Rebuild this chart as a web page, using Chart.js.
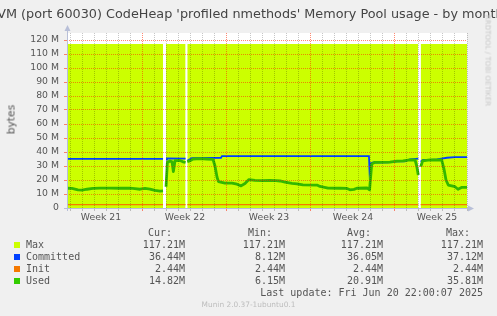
<!DOCTYPE html>
<html><head><meta charset="utf-8">
<script src="https://cdn.jsdelivr.net/npm/chart.js@4"></script>
<style>
html,body{margin:0;padding:0;background:#f0f0f0;}
#wrap{position:relative;width:497px;height:316px;overflow:hidden;background:#f0f0f0;}
#c{position:absolute;left:0;top:0;}
.t{position:absolute;white-space:pre;}
.mono{font-family:"DejaVu Sans Mono",monospace;font-size:10px;color:#555;line-height:12px;}
</style></head><body>
<div id="wrap">
<canvas id="c" width="497" height="316"></canvas>
<div class="t" id="title" style="left:-100px;width:697px;top:6px;text-align:center;font-family:'DejaVu Sans';font-size:12.8px;line-height:15px;color:#444;">JVM (port 60030) CodeHeap 'profiled nmethods' Memory Pool usage - by month</div>
<div class="t" style="left:-39px;top:113px;width:100px;text-align:center;transform:rotate(-90deg);font-family:'DejaVu Sans';font-size:10.7px;line-height:13px;color:#555;">bytes</div>
<div class="t" style="left:438px;top:56px;width:100px;text-align:center;transform:rotate(90deg);font-family:'DejaVu Sans';font-size:7.1px;line-height:9px;color:#c8c8c8;">RRDTOOL / TOBI OETIKER</div>
<div class="t" style="left:0;width:497px;top:300px;text-align:center;font-family:'DejaVu Sans';font-size:7.4px;line-height:9px;color:#bdbdbd;">Munin 2.0.37-1ubuntu0.1</div>
</div>
<script>
// ---- data (x in days from Monday of week 21, y in M) ----
const weekLabels = ['Week 21','Week 22','Week 23','Week 24','Week 25'];

const maxDays   = [0.667, 8.67, 8.8, 8.92, 10.55, 10.62, 10.69, 29.94, 30.04, 30.14, 34.0];
const maxValues = [117.21, 117.21, null, 117.21, 117.21, null, 117.21, 117.21, null, 117.21, 117.21];

const initDays   = [0.667, 8.67, 8.8, 8.92, 10.55, 10.62, 10.69, 29.94, 30.04, 30.14, 34.0];
const initValues = [2.44, 2.44, null, 2.44, 2.44, null, 2.44, 2.44, null, 2.44, 2.44];

const committedDays = [0.667, 8.67, 8.8, 8.92, 9.0, 10.55, 10.62, 10.69, 11.06, 13.5, 13.58,
  25.83, 25.88, 26.0, 26.19, 27.42, 28.14, 28.83, 29.25, 29.94, 30.04, 30.14, 30.33, 30.92, 31.5, 32.33, 33.0, 34.0];
const committedValues = [35.1, 35.1, null, 34.5, 35.4, 35.3, null, 33.8, 35.6, 35.9, 37.1,
  37.1, 26.0, 32.0, 32.5, 32.6, 33.3, 33.4, 34.8, 35.2, null, 33.1, 34.3, 34.4, 34.8, 35.9, 36.3, 36.3];

const usedDays = [0.667, 1.08, 1.58, 1.92, 2.33, 2.83, 3.42, 4.25, 5.08, 5.92, 6.33, 6.75, 7.17, 7.58, 8.0, 8.42, 8.67,
  8.8, 8.92, 9.03, 9.25, 9.42, 9.53, 9.67, 10.08, 10.33, 10.55,
  10.62, 10.69, 10.92, 11.17, 11.75, 12.33, 12.83, 13.0, 13.17, 13.29, 13.83, 14.42, 14.83, 15.17, 15.5, 15.83,
  16.33, 16.92, 17.58, 18.08, 18.42, 18.83, 19.42, 19.83, 20.33, 21.5, 21.75, 22.42, 23.42, 24.0, 24.25, 24.58,
  24.83, 25.67, 25.88, 26.06, 26.33, 27.58, 28.17, 28.67, 29.25, 29.67, 29.81, 29.94,
  30.04, 30.14, 30.3, 30.92, 31.89, 32.08, 32.25, 32.44, 33.0, 33.25, 33.58, 34.0];
const usedValues = [14.1, 14.0, 13.0, 12.8, 13.4, 14.0, 14.2, 14.2, 14.1, 14.2, 13.8, 13.4, 14.0, 13.5, 12.6, 12.1, 12.2,
  null, 15.2, 32.5, 33.6, 33.0, 26.0, 33.8, 34.0, 33.0, 32.5,
  null, 33.0, 33.8, 35.0, 35.2, 35.0, 34.8, 30.0, 22.0, 18.8, 17.8, 17.8, 17.0, 15.8, 17.5, 20.3,
  19.8, 19.5, 19.8, 19.5, 19.3, 18.5, 17.6, 17.3, 16.5, 16.4, 15.4, 14.2, 14.1, 14.0, 13.0, 13.3,
  14.1, 14.3, 13.0, 31.5, 32.6, 32.7, 33.5, 33.6, 34.3, 34.3, 30.0, 23.6,
  null, 29.5, 33.6, 34.3, 34.3, 28.0, 20.0, 16.4, 15.2, 13.4, 14.8, 14.8];

// legend table
const legendNames  = ['Max', 'Committed', 'Init', 'Used'];
const legendColors = ['#ccff00', '#0040ff', '#f57900', '#33cc00'];
const curStats = ['117.21M', '36.44M', '2.44M', '14.82M'];
const minStats = ['117.21M', '8.12M', '2.44M', '6.15M'];
const avgStats = ['117.21M', '36.05M', '2.44M', '20.91M'];
const maxStats = ['117.21M', '37.12M', '2.44M', '35.81M'];
const statHeaders = ['Cur:', 'Min:', 'Avg:', 'Max:'];
const lastUpdate = 'Last update: Fri Jun 20 22:00:07 2025';

// ---- legend html ----
const wrap = document.getElementById('wrap');
function place(text, right, top, align) {
  const d = document.createElement('div');
  d.className = 't mono';
  d.textContent = text;
  if (align === 'left') { d.style.left = right + 'px'; }
  else { d.style.left = (right - 300) + 'px'; d.style.width = '300px'; d.style.textAlign = 'right'; }
  d.style.top = top + 'px';
  wrap.appendChild(d);
}
const headRight = [172, 272, 371, 470];
const valRight = [185, 285, 383, 483];
const rowTop0 = 226.5, rowH = 12;
statHeaders.forEach((h, i) => place(h, headRight[i], rowTop0));
const statCols = [curStats, minStats, avgStats, maxStats];
legendNames.forEach((n, r) => {
  const top = rowTop0 + rowH * (r + 1);
  const sw = document.createElement('div');
  sw.className = 't';
  sw.style.cssText = `left:14px;top:${top + 3.5}px;width:6px;height:6px;background:${legendColors[r]};`;
  wrap.appendChild(sw);
  place(n, 26, top, 'left');
  statCols.forEach((col, c) => place(col[r], valRight[c], top));
});
place(lastUpdate, 483, rowTop0 + rowH * 5);

// ---- chart ----
const mk = (xs, ys) => xs.map((x, i) => ({x: x, y: ys[i]}));
const isLabelTick = v => Math.abs(v - Math.round(v)) > 0.01;

const bgPlugin = {
  id: 'bg',
  beforeDraw(chart) {
    const {ctx, chartArea: a} = chart;
    ctx.save();
    ctx.fillStyle = '#ffffff';
    ctx.fillRect(a.left, a.top, a.right - a.left, a.bottom - a.top);
    ctx.restore();
  }
};
const axisPlugin = {
  id: 'axes',
  afterDraw(chart) {
    const {ctx, chartArea: a} = chart;
    ctx.save();
    ctx.strokeStyle = '#b8bfd8';
    ctx.fillStyle = '#b8bfd8';
    ctx.lineWidth = 1;
    const lx = Math.round(a.left) + 0.5, by = Math.round(a.bottom) + 0.5;
    ctx.beginPath();
    ctx.moveTo(lx, a.bottom + 3); ctx.lineTo(lx, a.top - 4);
    ctx.moveTo(a.left - 3, by); ctx.lineTo(a.right + 2, by);
    ctx.stroke();
    ctx.beginPath();
    ctx.moveTo(lx - 3, a.top - 2); ctx.lineTo(lx + 3, a.top - 2); ctx.lineTo(lx, a.top - 8); ctx.closePath(); ctx.fill();
    ctx.beginPath();
    ctx.moveTo(a.right + 1, by - 3); ctx.lineTo(a.right + 1, by + 3); ctx.lineTo(a.right + 7, by); ctx.closePath(); ctx.fill();
    ctx.restore();
  }
};

const RED = 'rgba(255,40,0,0.55)', GREY = 'rgba(0,0,0,0.22)';
new Chart(document.getElementById('c'), {
  type: 'line',
  data: {
    datasets: [
      {label: 'Max', data: mk(maxDays, maxValues), backgroundColor: '#ccff00', borderWidth: 0, fill: 'origin', pointRadius: 0, order: 4},
      {label: 'Committed', data: mk(committedDays, committedValues), borderColor: '#0040ff', borderWidth: 1.8, fill: false, pointRadius: 0, order: 3},
      {label: 'Init', data: mk(initDays, initValues), borderColor: '#f57900', borderWidth: 1.2, fill: false, pointRadius: 0, order: 2},
      {label: 'Used', data: mk(usedDays, usedValues), borderColor: '#33b800', borderWidth: 2.8, fill: false, pointRadius: 0, order: 1, borderJoinStyle: 'round'}
    ]
  },
  options: {
    responsive: false, animation: false, devicePixelRatio: 1,
    spanGaps: false,
    layout: {padding: {left: 0, right: 30, top: 33, bottom: 88}},
    plugins: {legend: {display: false}, tooltip: {enabled: false}, title: {display: false}},
    scales: {
      x: {
        type: 'linear', min: 0.667, max: 34,
        afterBuildTicks: s => {
          const t = [];
          for (let d = 1; d <= 34; d++) t.push({value: d});
          weekLabels.forEach((w, i) => t.push({value: 3.5 + 7 * i}));
          t.sort((a, b) => a.value - b.value);
          s.ticks = t;
        },
        afterFit: s => { s.height = 20; },
        grid: {
          z: 1,
          lineWidth: c => isLabelTick(c.tick.value) ? 0 : 1,
          color: c => (Math.round(c.tick.value) % 7 === 0) ? RED : GREY,
          tickColor: c => isLabelTick(c.tick.value) ? 'rgba(0,0,0,0)' : ((Math.round(c.tick.value) % 7 === 0) ? RED : GREY),
          tickLength: 3, tickWidth: c => isLabelTick(c.tick.value) ? 0 : 1
        },
        border: {display: false, dash: [1, 1]},
        ticks: {
          autoSkip: false, maxRotation: 0, minRotation: 0, padding: 1,
          font: {family: 'DejaVu Sans', size: 9.3}, color: '#555',
          callback: v => { const i = (v - 3.5) / 7; return (Math.abs(i - Math.round(i)) < 0.001) ? weekLabels[Math.round(i)] : ''; }
        }
      },
      y: {
        min: 0, max: 125,
        afterFit: s => { s.width = 67; },
        grid: {
          z: 1,
          color: c => (c.tick.value % 10 === 0) ? RED : GREY,
          tickColor: c => (c.tick.value % 10 === 0) ? RED : GREY,
          tickLength: 3
        },
        border: {display: false, dash: [1, 1]},
        ticks: {
          stepSize: 5, padding: 5,
          font: {family: 'DejaVu Sans', size: 9.3}, color: '#555',
          callback: v => (v % 10 === 0) ? (v === 0 ? '0' : v + ' M') : ''
        }
      }
    }
  },
  plugins: [bgPlugin, axisPlugin]
});
</script>
</body></html>
